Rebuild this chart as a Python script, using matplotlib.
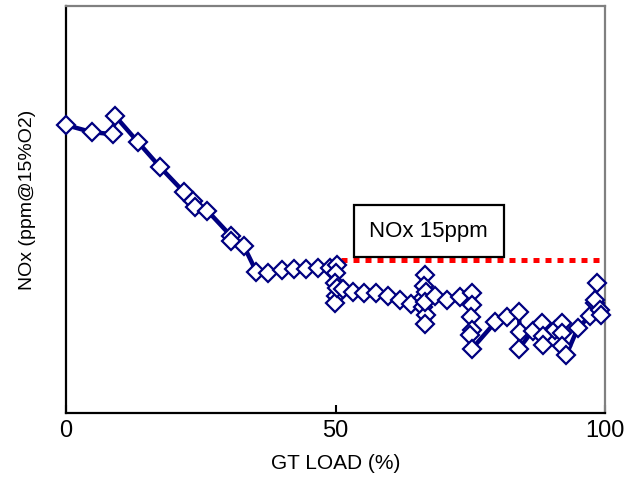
import matplotlib.pyplot as plt

# carga de la turbina (%) y NOx medido (ppm @15% O2)
load = [0.0, 4.8, 8.7, 9.1, 13.4, 17.4, 21.9, 23.6, 23.9, 26.2, 30.6, 30.6, 33.0,
        35.3, 37.5, 40.1, 42.3, 44.5, 46.8, 49.0, 50.3, 50.1, 49.9, 50.1, 49.9, 50.3,
        51.4, 53.2, 55.3, 57.5, 59.7, 62.0, 64.0, 66.2, 66.6, 66.4, 66.8, 66.2, 66.8,
        66.6, 66.6, 68.5, 70.7, 73.1, 75.3, 75.3, 75.1, 75.3, 75.0, 75.3,
        79.6, 81.8, 84.0, 84.2, 84.0, 86.6, 88.3, 88.5, 88.5, 90.7, 92.0, 92.0, 92.0,
        92.8, 95.0, 97.2, 98.1, 98.5, 98.1, 99.1, 99.3]
nox = [28.3, 27.6, 27.4, 29.2, 26.6, 24.2, 21.7, 20.8, 20.2, 19.9, 17.4, 16.9, 16.4,
       13.9, 13.8, 14.1, 14.2, 14.2, 14.3, 14.3, 14.5, 13.8, 12.8, 11.5, 10.8, 12.3,
       12.2, 11.9, 11.8, 11.8, 11.5, 11.1, 10.7, 11.3, 13.6, 12.5, 11.9, 10.4, 9.6,
       8.7, 10.9, 11.5, 11.1, 11.4, 11.8, 10.6, 9.4, 8.2, 7.7, 6.3,
       8.9, 9.4, 9.9, 8.0, 6.3, 8.1, 8.8, 7.6, 6.7, 8.2, 8.8, 7.9, 6.6,
       5.7, 8.4, 9.5, 10.8, 12.8, 11.1, 10.1, 9.6]

limite = 15
limite_x = [51, 100]

plt.rcParams['font.family'] = ['Liberation Sans Narrow', 'Liberation Sans', 'DejaVu Sans']

fig = plt.figure(figsize=(6.37, 4.83), dpi=100)
ax = fig.add_axes([0.1036, 0.1449, 0.8462, 0.8427])

ax.plot(load, nox, color='#000080', linewidth=3.2, marker='D', markersize=9,
        markerfacecolor='white', markeredgecolor='#000080', markeredgewidth=1.6,
        zorder=3, clip_on=False)
ax.plot(limite_x, [limite, limite], color='red', linewidth=3.6,
        linestyle=(0, (1.2, 1.2)), dash_capstyle='butt', zorder=2)

ax.text(67.3, 17.85, 'NOx 15ppm', fontsize=16, ha='center', va='center',
        bbox=dict(boxstyle='square,pad=0.7', facecolor='white',
                  edgecolor='black', linewidth=1.6))

ax.set_xlim(0, 100)
ax.set_ylim(0, 40)
ax.set_xticks([0, 50, 100])
ax.set_yticks([])
ax.tick_params(axis='x', direction='in', length=6, width=1.5, labelsize=17, pad=5)
ax.set_xlabel('GT LOAD (%)', fontsize=15, labelpad=9)
ax.set_ylabel('NOx (ppm@15%O2)', fontsize=14)
ax.yaxis.set_label_coords(-0.055, 0.523)

for s in ['left', 'bottom']:
    ax.spines[s].set_linewidth(1.6)
    ax.spines[s].set_color('black')
for s in ['top', 'right']:
    ax.spines[s].set_linewidth(1.6)
    ax.spines[s].set_color('#808080')

fig.savefig('out.png', dpi=100)
